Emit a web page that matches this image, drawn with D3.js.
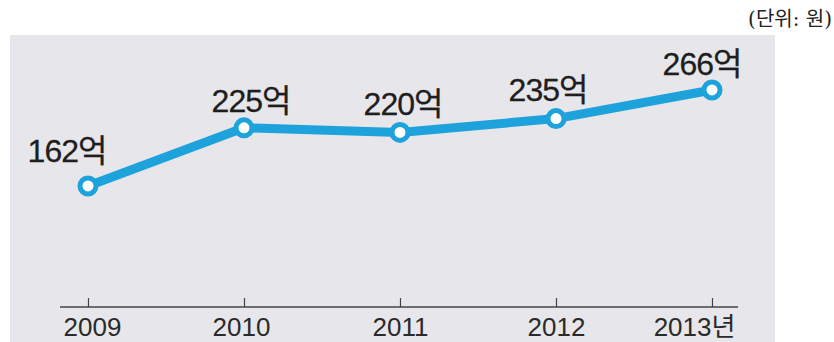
<!DOCTYPE html>
<html>
<head>
<meta charset="utf-8">
<script src="https://cdn.jsdelivr.net/npm/d3@7"></script>
<style>
  html, body { margin: 0; padding: 0; background: #ffffff; }
  svg { display: block; }
</style>
</head>
<body>
<svg id="chart" width="834" height="342"></svg>
<script>
// Annual amounts (unit: 억 원)
const years = [2009, 2010, 2011, 2012, 2013];
const yearLabels = ["2009", "2010", "2011", "2012", "2013년"];
const amounts = [162, 225, 220, 235, 266];
const valueSuffix = "억";
const unitNote = "(단위: 원)";

// Label nudges relative to each point (dx, dy of baseline)
const labelShift = [[-21, -24], [7, -16], [3, -17], [-8, -18], [-10, -15]];
// Horizontal nudges for the year labels
const tickShift = [4, -3, 0, 0, -18];

const svg = d3.select("#chart");
const W = 834, H = 342;

const blue = "#1ea2dc";

// Background panel
svg.append("rect")
  .attr("x", 10).attr("y", 35)
  .attr("width", 765).attr("height", H - 35)
  .attr("fill", "#e7e7eb");

// Unit note
svg.append("text")
  .attr("x", 832).attr("y", 26)
  .attr("text-anchor", "end")
  .attr("font-family", "'DejaVu Serif', 'Noto Sans CJK KR', serif")
  .attr("font-size", 20)
  .attr("fill", "#222")
  .text(unitNote);

const x = d3.scaleLinear().domain([2009, 2013]).range([88, 712]);
const y = d3.scaleLinear().domain([0, 300]).range([335.5, 58.6]);

// Bottom axis with short upward ticks
const axisY = 307;
const axis = d3.axisBottom(x)
  .tickValues(years)
  .tickSize(-9)
  .tickSizeOuter(0)
  .tickFormat((d, i) => yearLabels[i]);

const gAxis = svg.append("g")
  .attr("transform", `translate(0,${axisY})`)
  .call(axis);

gAxis.select(".domain").remove();
gAxis.insert("line", ":first-child")
  .attr("x1", 60).attr("x2", 738)
  .attr("y1", 0).attr("y2", 0)
  .attr("stroke", "#444").attr("stroke-width", 1.3);
gAxis.selectAll(".tick line").attr("stroke", "#444").attr("stroke-width", 1.2);
gAxis.selectAll(".tick text")
  .attr("y", 11)
  .attr("dy", "0.71em")
  .attr("font-family", "'Liberation Sans', 'Noto Sans CJK KR', sans-serif")
  .attr("font-size", 26)
  .attr("fill", "#2a2a2a")
  .attr("dx", (d, i) => tickShift[i]);

// Line
const pts = years.map((yr, i) => ({ year: yr, value: amounts[i] }));
const line = d3.line().x(d => x(d.year)).y(d => y(d.value));

svg.append("path")
  .datum(pts)
  .attr("d", line)
  .attr("fill", "none")
  .attr("stroke", blue)
  .attr("stroke-width", 9)
  .attr("stroke-linejoin", "round")
  .attr("stroke-linecap", "round");

// Point markers
svg.selectAll("circle.pt")
  .data(pts)
  .join("circle")
  .attr("class", "pt")
  .attr("cx", d => x(d.year))
  .attr("cy", d => y(d.value))
  .attr("r", 8)
  .attr("fill", "#ffffff")
  .attr("stroke", blue)
  .attr("stroke-width", 5);

// Value labels
svg.selectAll("text.val")
  .data(pts)
  .join("text")
  .attr("class", "val")
  .attr("x", (d, i) => x(d.year) + labelShift[i][0])
  .attr("y", (d, i) => y(d.value) + labelShift[i][1])
  .attr("text-anchor", "middle")
  .attr("font-family", "'Liberation Sans', 'Noto Sans CJK KR', sans-serif")
  .attr("font-size", 32)
  .attr("letter-spacing", -1)
  .attr("fill", "#1e1e1e")
  .attr("stroke", "#1e1e1e")
  .attr("stroke-width", 0.3)
  .text(d => d.value + valueSuffix);
</script>
</body>
</html>
